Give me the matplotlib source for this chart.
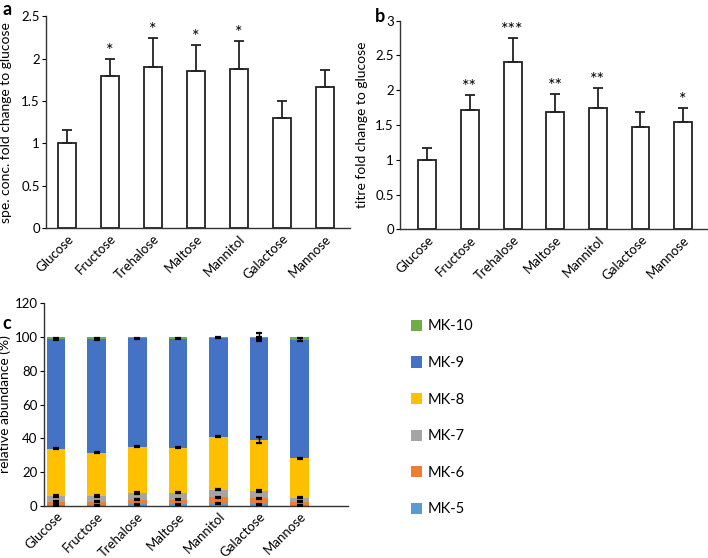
import numpy as np
import matplotlib
matplotlib.use("Agg")
import matplotlib.pyplot as plt
from matplotlib.patches import Patch

plt.rcParams["font.family"] = ["Lato", "DejaVu Sans"]

# =========================================================
# Dados
# =========================================================
sugars = ["Glucose", "Fructose", "Trehalose", "Maltose", "Mannitol", "Galactose", "Mannose"]

spe_conc = [1.00, 1.79, 1.90, 1.85, 1.88, 1.30, 1.66]
spe_conc_err = [0.16, 0.21, 0.34, 0.31, 0.33, 0.20, 0.20]
spe_conc_sig = ["", "*", "*", "*", "*", "", ""]

titre = [1.00, 1.71, 2.41, 1.69, 1.74, 1.47, 1.55]
titre_err = [0.17, 0.22, 0.34, 0.25, 0.29, 0.22, 0.20]
titre_sig = ["", "**", "***", "**", "**", "", "*"]

mk_labels = ["MK-5", "MK-6", "MK-7", "MK-8", "MK-9", "MK-10"]
mk_colors = ["#5B9BD5", "#ED7D31", "#A5A5A5", "#FFC000", "#4472C4", "#70AD47"]
mk5 = [0.5, 0.5, 1.0, 1.0, 1.3, 1.1, 0.5]
mk6 = [2.0, 2.1, 2.9, 2.9, 3.8, 3.4, 2.1]
mk7 = [3.4, 3.3, 3.8, 4.0, 4.7, 4.5, 2.3]
mk8 = [28.0, 25.6, 27.3, 26.7, 31.1, 30.2, 23.3]
mk9 = [65.1, 67.3, 64.2, 64.4, 58.5, 60.2, 70.2]
mk10 = [1.0, 1.2, 0.8, 1.0, 0.6, 0.6, 1.6]
mk5_err = [0.3, 0.3, 0.3, 0.3, 0.3, 0.3, 0.3]
mk6_err = [0.4, 0.4, 0.4, 0.4, 0.4, 0.4, 0.4]
mk7_err = [0.4, 0.4, 0.4, 0.4, 0.4, 0.5, 0.4]
mk8_err = [0.3, 0.3, 0.3, 0.3, 0.3, 1.8, 0.4]
mk9_err = [0.6, 0.6, 0.4, 0.5, 0.3, 0.4, 0.8]
mk10_err = [0, 0, 0, 0, 0, 2.2, 0]


# =========================================================
# Figura
# =========================================================
fig = plt.figure(figsize=(7.08, 5.58), dpi=100)

ax_a = fig.add_axes([0.065, 0.591, 0.43, 0.380])
ax_b = fig.add_axes([0.565, 0.589, 0.433, 0.374])
ax_c = fig.add_axes([0.062, 0.093, 0.430, 0.364])

x = np.arange(len(sugars))


def estilo(ax):
    for s in ["top", "right"]:
        ax.spines[s].set_visible(False)
    for s in ["left", "bottom"]:
        ax.spines[s].set_linewidth(1.0)
        ax.spines[s].set_color("#333333")
    ax.tick_params(axis="x", length=0, labelsize=9.5, pad=3)
    ax.tick_params(axis="y", length=3, labelsize=9.5, direction="out", pad=1.5)
    ax.set_xticks(x)
    ax.set_xticklabels(sugars, rotation=45, ha="right", rotation_mode="anchor")


def barras_simples(ax, vals, errs, sig, ylim, yticks, ylabel, xlim, lab_x):
    ax.bar(x, vals, width=0.42, color="white", edgecolor="#222222", linewidth=1.3, zorder=2)
    ax.errorbar(x, vals, yerr=[np.zeros(len(vals)), errs], fmt="none",
                ecolor="#222222", elinewidth=1.3, capsize=3.5, capthick=1.3, zorder=3)
    for xi, v, e, s in zip(x, vals, errs, sig):
        if s:
            ax.text(xi, v + e, s, ha="center", va="bottom", fontsize=13)
    ax.set_ylim(*ylim)
    ax.set_xlim(*xlim)
    ax.set_yticks(yticks)
    ax.set_yticklabels([f"{t:g}" for t in yticks])
    ax.set_ylabel(ylabel, fontsize=10)
    ax.yaxis.set_label_coords(lab_x, 0.5)
    estilo(ax)


barras_simples(ax_a, spe_conc, spe_conc_err, spe_conc_sig, (0, 2.5),
               [0, 0.5, 1, 1.5, 2, 2.5], "spe. conc. fold change to glucose",
               (-0.49, 6.6), -0.112)
barras_simples(ax_b, titre, titre_err, titre_sig, (0, 3),
               [0, 0.5, 1, 1.5, 2, 2.5, 3], "titre fold change to glucose",
               (-0.64, 6.55), -0.104)

# Painel c - barras empilhadas
series = [mk5, mk6, mk7, mk8, mk9, mk10]
erros = [mk5_err, mk6_err, mk7_err, mk8_err, mk9_err, mk10_err]
base = np.zeros(len(sugars))
for vals, errs, cor in zip(series, erros, mk_colors):
    vals = np.array(vals)
    ax_c.bar(x, vals, bottom=base, width=0.46, color=cor, zorder=2)
    topo = base + vals
    errs = np.array(errs, dtype=float)
    mask = errs > 0
    ax_c.errorbar(x[mask], topo[mask], yerr=errs[mask], fmt="none", ecolor="black",
                  elinewidth=1.0, capsize=2.5, capthick=1.6, zorder=3)
    base = topo

ax_c.set_ylim(0, 120)
ax_c.set_xlim(-0.3, 7.2)
ax_c.set_yticks(np.arange(0, 121, 20))
ax_c.set_ylabel("relative abundance (%)", fontsize=10)
ax_c.yaxis.set_label_coords(-0.108, 0.5)
estilo(ax_c)

handles = [Patch(facecolor=c, edgecolor="none") for c in mk_colors][::-1]
fig.legend(handles, mk_labels[::-1], loc="upper left", bbox_to_anchor=(0.572, 0.438),
           frameon=False, fontsize=10.5, handlelength=0.8, handleheight=0.8,
           handletextpad=0.35, labelspacing=1.55, borderaxespad=0)

# Letras dos paineis
fig.text(0.003, 0.998, "a", fontsize=13, fontweight="bold", va="top")
fig.text(0.530, 0.986, "b", fontsize=13, fontweight="bold", va="top")
fig.text(0.004, 0.436, "c", fontsize=13, fontweight="bold", va="top")

fig.savefig("out.png", dpi=100)
